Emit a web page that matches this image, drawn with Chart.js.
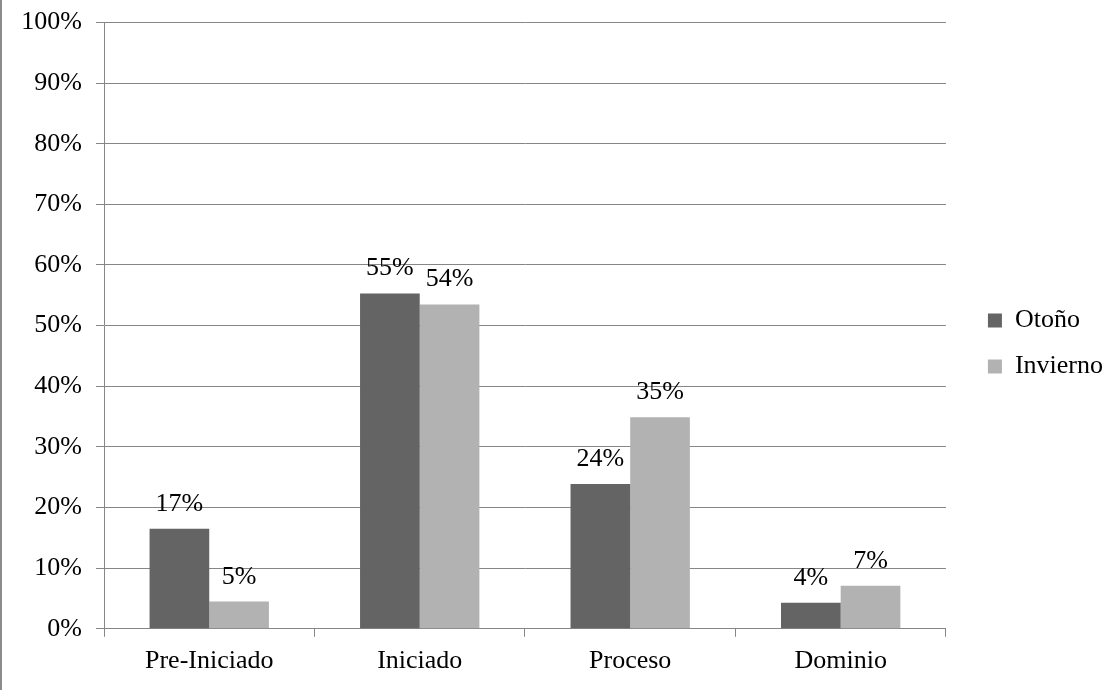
<!DOCTYPE html>
<html>
<head>
<meta charset="utf-8">
<script src="https://cdn.jsdelivr.net/npm/chart.js@4"></script>
<style>
  html, body { margin: 0; padding: 0; background: #fff; }
  #wrap { width: 1108px; height: 690px; border-left: 2px solid #8c8c8c; }
</style>
</head>
<body>
<div id="wrap"><canvas id="grafico" width="1108" height="690"></canvas></div>
<script>
const categorias = ['Pre-Iniciado', 'Iniciado', 'Proceso', 'Dominio'];
const otono = [16.5, 55.3, 23.9, 4.3];
const invierno = [4.5, 53.5, 34.9, 7.1];
const etiquetasOtono = ['17%', '55%', '24%', '4%'];
const etiquetasInvierno = ['5%', '54%', '35%', '7%'];

const fuente = "'Liberation Serif', 'Times New Roman', serif";
const gris = '#868686';
const tam = 26;

// etiquetas encima de cada barra
const etiquetasPlugin = {
  id: 'etiquetas',
  afterDatasetsDraw(chart) {
    const ctx = chart.ctx;
    const textos = [etiquetasOtono, etiquetasInvierno];
    ctx.save();
    ctx.font = tam + 'px ' + fuente;
    ctx.fillStyle = '#000';
    ctx.textAlign = 'center';
    ctx.textBaseline = 'alphabetic';
    chart.data.datasets.forEach((ds, i) => {
      chart.getDatasetMeta(i).data.forEach((bar, j) => {
        ctx.fillText(textos[i][j], bar.x, bar.y - 18);
      });
    });
    ctx.restore();
  }
};

// leyenda un poco mas estrecha para que quede pegada al borde derecho
const leyendaAncho = {
  id: 'leyendaAncho',
  beforeLayout(chart) {
    const lg = chart.legend;
    if (lg && !lg._ajustada) {
      const fitOrig = lg.fit.bind(lg);
      lg.fit = function () { fitOrig(); this.width -= 3; };
      lg._ajustada = true;
    }
  }
};

const datos = {
  labels: categorias,
  datasets: [{
    label: 'Otoño',
    data: otono,
    backgroundColor: '#646464',
    categoryPercentage: 0.567,
    barPercentage: 1
  }, {
    label: 'Invierno',
    data: invierno,
    backgroundColor: '#b2b2b2',
    categoryPercentage: 0.567,
    barPercentage: 1
  }]
};

const config = {
  type: 'bar',
  data: datos,
  plugins: [etiquetasPlugin, leyendaAncho],
  options: {
    responsive: false,
    animation: false,
    layout: { padding: { top: 1, right: 0, bottom: 4, left: 0 } },
    plugins: {
      legend: {
        position: 'right',
        labels: {
          font: { family: fuente, size: tam },
          color: '#000',
          boxWidth: 14,
          boxHeight: 14,
          padding: 20,
          useBorderRadius: false
        }
      },
      tooltip: { enabled: false }
    },
    scales: {
      x: {
        grid: { drawOnChartArea: false, drawTicks: true, tickLength: 8, color: gris, lineWidth: 1 },
        border: { color: gris, width: 1 },
        ticks: { font: { family: fuente, size: tam }, color: '#000', padding: 9 }
      },
      y: {
        min: 0,
        max: 100,
        afterFit(scale) { scale.width = 102; },
        grid: { color: gris, lineWidth: 1, tickLength: 8 },
        border: { color: gris, width: 1 },
        ticks: {
          stepSize: 10,
          font: { family: fuente, size: tam, lineHeight: 0.65 },
          color: '#000',
          padding: 14,
          callback: v => v + '%'
        }
      },
      // eje vacio: solo deja hueco entre el grafico y la leyenda
      hueco: {
        position: 'right',
        afterFit(scale) { scale.width = 22; },
        grid: { display: false },
        border: { display: false },
        ticks: { display: false }
      }
    }
  }
};

new Chart(document.getElementById('grafico'), config);
</script>
</body>
</html>
